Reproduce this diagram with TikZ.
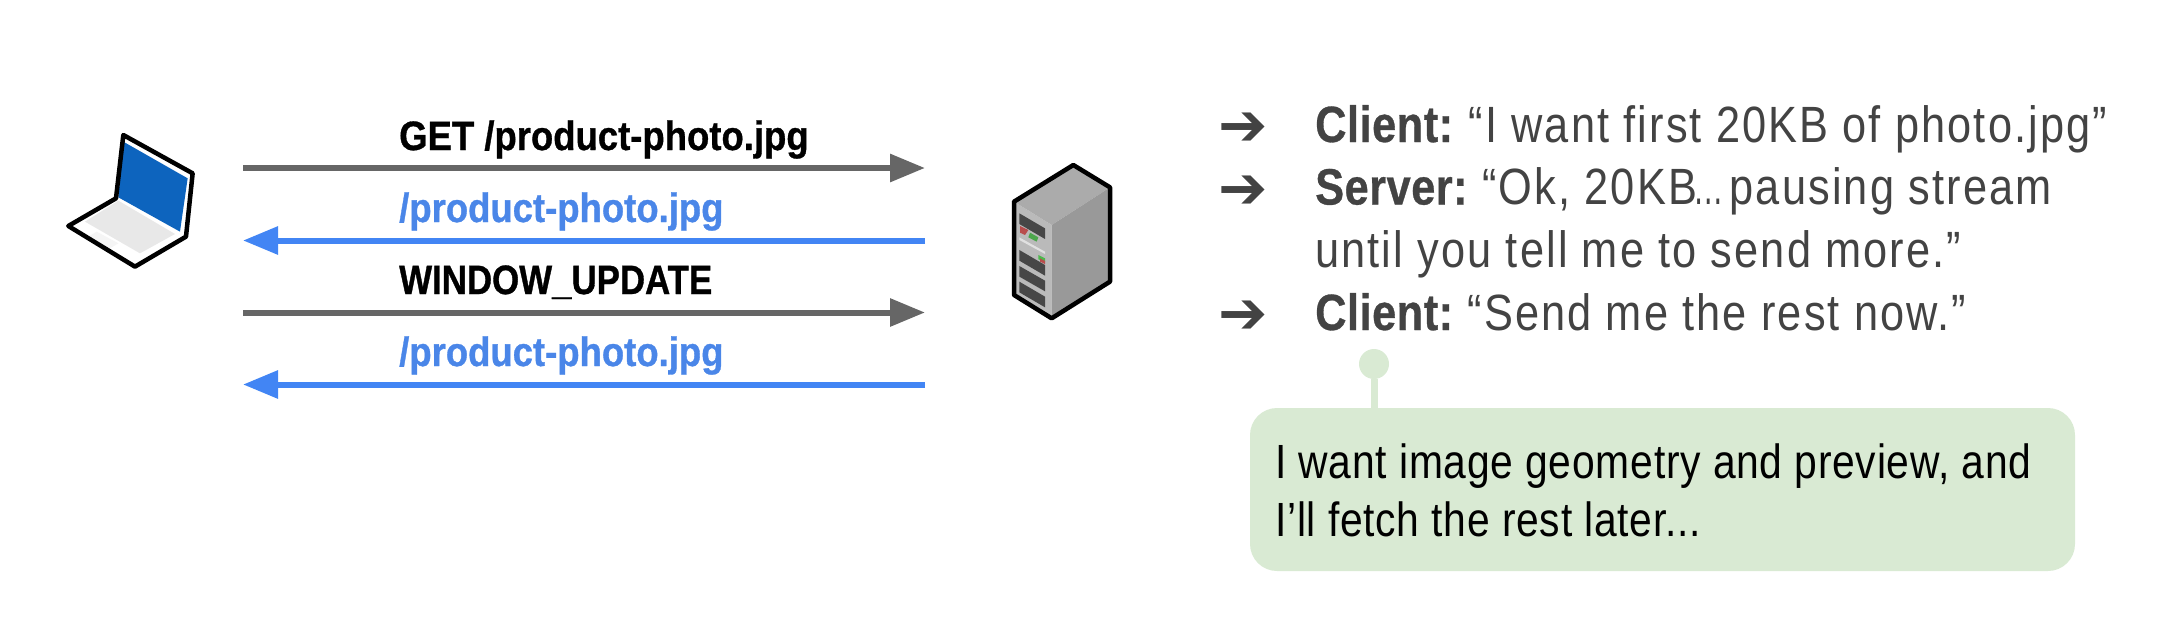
\documentclass[tikz,border=0pt]{standalone}
\usepackage{fontspec}
\setmainfont{Liberation Sans}[FakeStretch=0.85,LetterSpace=4.2,BoldFeatures={LetterSpace=1,FakeBold=0.6}]
\newfontfamily\notefont{Liberation Sans}[FakeStretch=0.85,LetterSpace=1.6]
\newfontfamily\lblfont{Liberation Sans}[FakeStretch=0.89,BoldFeatures={FakeBold=0.8}]
\newfontfamily\capsfont{Liberation Sans}[FakeStretch=0.85,BoldFeatures={FakeBold=0.8}]
\newfontfamily\arrowfont{DejaVu Sans}
\usetikzlibrary{arrows.meta}
\definecolor{txtgray}{HTML}{434343}
\definecolor{arrgray}{HTML}{666666}
\definecolor{arrblue}{HTML}{4285F4}
\definecolor{lblblue}{HTML}{4A86E8}
\definecolor{screenblue}{HTML}{0D64BE}
\definecolor{note}{HTML}{D9EAD3}
\tikzset{
  x=1pt,y=-1pt,
  flow/.style={line width=6pt,-{Triangle[length=35pt,width=27pt]}},
  lbl/.style={anchor=base west,inner sep=0pt,font=\fontsize{41}{41}\selectfont\lblfont\bfseries},
  say/.style={anchor=base west,inner sep=0pt,text=txtgray,font=\fontsize{51}{51}\selectfont},
  bul/.style={anchor=base west,inner sep=0pt,text=txtgray,font=\fontsize{59}{59}\selectfont\arrowfont},
  notetxt/.style={anchor=base west,inner sep=0pt,text=black,font=\fontsize{48}{48}\selectfont\notefont},
  edge/.style={draw=black,line width=4.5pt,line join=round}
}
\begin{document}
\begin{tikzpicture}
\useasboundingbox (0,0) rectangle (2158,624);
% endpoints
\coordinate (cl1) at (243,168); \coordinate (sv1) at (925,168);
\coordinate (cl2) at (243,240.5); \coordinate (sv2) at (925,240.5);
\coordinate (cl3) at (243,312.5); \coordinate (sv3) at (925,312.5);
\coordinate (cl4) at (243,384.5); \coordinate (sv4) at (925,384.5);
\draw[flow,arrgray] (cl1) -- (sv1);
\draw[flow,arrblue] (sv2) -- (cl2);
\draw[flow,arrgray] (cl3) -- (sv3);
\draw[flow,arrblue] (sv4) -- (cl4);
\node[lbl,text=black] (l1) at (399,150) {GET /product-photo.jpg};
\node[lbl,text=lblblue] (l2) at (399,222) {/product-photo.jpg};
\node[lbl,text=black] (l3) at (399,294) {\capsfont\bfseries WINDOW\_UPDATE};
\node[lbl,text=lblblue] (l4) at (399,366) {/product-photo.jpg};
% laptop
\begin{scope}[shift={(40,110)},x=0.3333pt,y=-0.3333pt]
\fill[white] (250,75)--(458,190)--(438,380)--(285,470)--(85,348)--(228,265)--cycle;
\fill[black!9] (235,272)--(405,372)--(300,430)--(135,335)--cycle;
\fill[black!4] (170,365)--(235,400)--(210,415)--(145,380)--cycle;
\fill[screenblue] (250,95)--(443,205)--(420,365)--(235,262)--cycle;
\draw[edge] (250,75)--(458,190)--(438,380)--(285,470)--(85,348)--(228,265)--cycle;
\end{scope}
% server
\begin{scope}[shift={(990,150)},x=0.3333pt,y=-0.3333pt]
\fill[black!27] (72,155)--(185,225)--(185,505)--(72,435)--cycle;
\fill[black!33] (72,155)--(250,45)--(360,112)--(185,225)--cycle;
\fill[black!40] (185,225)--(360,112)--(360,395)--(185,505)--cycle;
\foreach \a/\b in {190/235,300/345,348/392,395/440}
  \fill[black!72] (88,\a)--(165,\b)--(165,\b+32)--(88,\a+32)--cycle;
\fill[black!12] (88,262)--(165,305)--(165,312)--(88,270)--cycle;
\fill[red!60!black!70] (90,228)--(115,240)--(105,255)--(90,248)--cycle;
\fill[green!50!black!70] (120,248)--(145,262)--(140,275)--(115,262)--cycle;
\fill[green!60!black!70] (145,315)--(165,325)--(165,335)--(145,328)--cycle;
\fill[red!60!black!70] (150,325)--(165,333)--(165,342)--(150,335)--cycle;
\draw[edge] (72,155)--(250,45)--(360,112)--(360,395)--(185,505)--(72,435)--cycle;
\end{scope}
% bullets
\node[bul] (b1) at (1218,145) {➔};
\node[bul] (b2) at (1218,208) {➔};
\node[bul] (b3) at (1218,333) {➔};
\node[say] (s1) at (1315,142) {\textbf{Client:}\kern-4pt{} “I want first 20KB of photo.jpg”};
\node[say] (s2) at (1315,204.5) {\textbf{Server:}\kern-5pt{} “Ok, 20KB\kern-4pt\scalebox{0.7}[1]{…}\kern-8pt{} pausing stream};
\node[say] (s3) at (1315,267) {until you tell me to send more.”};
\node[say] (s4) at (1315,330) {\textbf{Client:}\kern-5pt{} “Send me the rest now.”};
% note
\node[circle,fill=note,minimum size=30pt,inner sep=0pt] (dot) at (1374,364) {};
\fill[note,rounded corners=27pt] (1250,408) rectangle (2075,571);
\coordinate (notetop) at (1374,408);
\draw[note,line width=7pt] (dot) -- (notetop);
\node[notetxt] (n1) at (1275,478) {I want image geometry and preview, and};
\node[notetxt] (n2) at (1275,536) {I’ll fetch the rest later...};
\end{tikzpicture}
\end{document}
